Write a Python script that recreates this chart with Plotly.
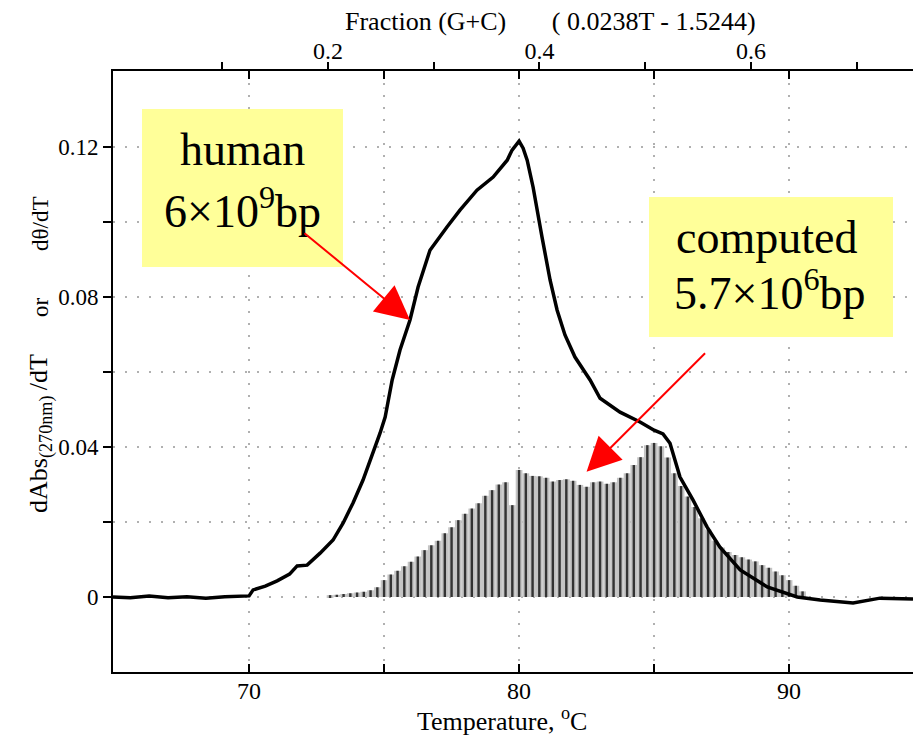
import plotly.graph_objects as go

# ---- measured melting curve of human DNA: temperature (°C) vs dAbs/dT ----
human_T = [64.96, 65.6, 66.3, 67.0, 67.7, 68.4, 69.1, 69.6, 70.0, 70.15, 70.6, 71.04,
           71.5, 71.78, 72.15, 72.63, 73.11, 73.48, 73.85, 74.22, 74.59, 74.85, 75.04,
           75.15, 75.3, 75.59, 75.96, 76.26, 76.7, 77.33, 77.81, 78.44, 79.04, 79.56,
           79.74, 80.0, 80.15, 80.3, 80.52, 80.85, 81.15, 81.41, 81.7, 82.07, 82.63,
           83.0, 83.74, 84.48, 85.0, 85.33, 85.59, 85.96, 86.44, 86.96, 87.44, 88.19,
           89.19, 90.3, 91.15, 92.37, 93.37, 94.59]
human_val = [0.0, -0.0002, 0.0003, -0.0002, 0.0001, -0.0003, 0.0001, 0.0002, 0.0003, 0.0019,
             0.0029, 0.0043, 0.0061, 0.0083, 0.0085, 0.0117, 0.0152, 0.0197, 0.0251, 0.0312,
             0.0384, 0.0437, 0.048, 0.0525, 0.0579, 0.0659, 0.0739, 0.0827, 0.0925, 0.0987,
             0.1032, 0.1085, 0.112, 0.1165, 0.1192, 0.1216, 0.1197, 0.1165, 0.1093, 0.096,
             0.0845, 0.0765, 0.0699, 0.064, 0.0579, 0.053, 0.0493, 0.0467, 0.0445, 0.0435,
             0.041, 0.032, 0.0259, 0.0187, 0.0133, 0.0072, 0.0027, 0.0, -0.0008, -0.0016,
             -0.0003, -0.0005]

# ---- computed dθ/dT histogram (bin centre °C, height) ----
comp_T = [73.0, 73.25, 73.5, 73.75, 74.0, 74.25, 74.5, 74.75, 75.0, 75.25, 75.5, 75.75,
          76.0, 76.25, 76.5, 76.75, 77.0, 77.25, 77.5, 77.75, 78.0, 78.25, 78.5, 78.75,
          79.0, 79.25, 79.5, 79.75, 80.0, 80.25, 80.5, 80.75, 81.0, 81.25, 81.5, 81.75,
          82.0, 82.25, 82.5, 82.75, 83.0, 83.25, 83.5, 83.75, 84.0, 84.25, 84.5, 84.75,
          85.0, 85.25, 85.5, 85.75, 86.0, 86.25, 86.5, 86.75, 87.0, 87.25, 87.5, 87.75,
          88.0, 88.25, 88.5, 88.75, 89.0, 89.25, 89.5, 89.75, 90.0, 90.25, 90.5]
comp_val = [0.0005, 0.0006, 0.0008, 0.0010, 0.0012, 0.0014, 0.0018, 0.0026, 0.0045, 0.0060,
            0.0070, 0.0082, 0.0094, 0.0108, 0.0125, 0.0138, 0.0150, 0.0170, 0.0186, 0.0205,
            0.0222, 0.0236, 0.0250, 0.0270, 0.0285, 0.0300, 0.0306, 0.0245, 0.0339, 0.0330,
            0.0323, 0.0322, 0.0318, 0.0308, 0.0312, 0.0314, 0.0310, 0.0299, 0.0294, 0.0306,
            0.0308, 0.0302, 0.0306, 0.0318, 0.0330, 0.0352, 0.0373, 0.0405, 0.0411, 0.0402,
            0.0372, 0.0330, 0.0296, 0.0268, 0.0240, 0.0210, 0.0180, 0.0150, 0.0132, 0.0120,
            0.0112, 0.0106, 0.0100, 0.0095, 0.0085, 0.0078, 0.0068, 0.0058, 0.0045, 0.0030,
            0.0015]

# ---- axis ticks ----
temp_ticks = [70, 75, 80, 85, 90]
temp_labels = ["70", "", "80", "", "90"]
gc_ticks = [0.1, 0.2, 0.3, 0.4, 0.5, 0.6, 0.7]
gc_labels = ["", "0.2", "", "0.4", "", "0.6", ""]
y_ticks = [0, 0.02, 0.04, 0.06, 0.08, 0.10, 0.12]
y_labels = ["0", "", "0.04", "", "0.08", "", "0.12"]

SERIF = "Liberation Serif, Times New Roman, serif"
W, H = 913, 743
ML, MR, MT, MB = 113, 0, 71, 71
PW, PH = W - ML - MR, H - MT - MB


def px(x):
    return (x - ML) / PW


def py(y):
    return (H - MB - y) / PH


fig = go.Figure()

# histogram: pale envelope plus dark stripes
fig.add_trace(go.Bar(x=comp_T, y=comp_val, width=0.25,
                     marker=dict(color="#c4c4c4", line=dict(width=0)),
                     hoverinfo="skip", showlegend=False))
fig.add_trace(go.Bar(x=comp_T, y=comp_val, width=0.09,
                     marker=dict(color="#333333", line=dict(width=0)),
                     hoverinfo="skip", showlegend=False))

# melting curve
fig.add_trace(go.Scatter(x=human_T, y=human_val, mode="lines",
                         line=dict(color="black", width=3.5),
                         hoverinfo="skip", showlegend=False))

# carrier for the G+C fraction axis
fig.add_trace(go.Scatter(x=[0.1, 0.7], y=[None, None], xaxis="x2", mode="lines",
                         hoverinfo="skip", showlegend=False))

grid = dict(showgrid=True, gridcolor="#b0b0b0", gridwidth=1.5, griddash="2px,10px")

fig.update_layout(
    width=W, height=H,
    margin=dict(l=ML, r=MR, t=MT, b=MB),
    paper_bgcolor="white", plot_bgcolor="white",
    barmode="overlay",
    showlegend=False,
    font=dict(family=SERIF, color="black"),
    xaxis=dict(range=[64.96, 94.59], tickvals=temp_ticks, ticktext=temp_labels,
               ticks="inside", ticklen=8, tickwidth=2, tickcolor="black",
               showline=True, linewidth=2, linecolor="black", mirror="ticks",
               zeroline=False, tickfont=dict(size=24, family=SERIF),
               ticklabelstandoff=-4, **grid),
    xaxis2=dict(overlaying="x", side="top", anchor="y",
                range=[-0.0033, 0.7532], tickvals=gc_ticks, ticktext=gc_labels,
                ticks="outside", ticklen=7, tickwidth=2, tickcolor="black",
                showline=True, linewidth=2, linecolor="black",
                showgrid=False, zeroline=False, ticklabelstandoff=-7,
                tickfont=dict(size=24, family=SERIF)),
    yaxis=dict(range=[-0.02, 0.1403], tickvals=y_ticks, ticktext=y_labels,
               ticks="outside", ticklen=8, tickwidth=2, tickcolor="black",
               showline=True, linewidth=2, linecolor="black",
               zeroline=False, tickfont=dict(size=23, family=SERIF), **grid),
)

annotations = [
    dict(text="Fraction (G+C)" + "\u00a0" * 7 + "( 0.0238T - 1.5244)",
         x=px(550), y=py(21), font=dict(size=26)),
    dict(text="Temperature, <sup>o</sup>C", x=px(502), y=py(719), font=dict(size=26)),
    dict(text="d\u03b8/dT", x=px(40), y=py(224), textangle=-90, font=dict(size=23)),
    dict(text="or", x=px(40), y=py(307), textangle=-90, font=dict(size=23)),
    dict(text="dAbs<sub>(270nm)</sub>\u2009/dT", x=px(40), y=py(434), textangle=-90,
         font=dict(size=26)),
    dict(text="human", x=px(242), y=py(149), font=dict(size=46)),
    dict(text="6\u00d710<sup>9</sup>bp", x=px(242), y=py(208), font=dict(size=46)),
    dict(text="computed", x=px(766), y=py(237), font=dict(size=46)),
    dict(text="5.7\u00d710<sup>6</sup>bp", x=px(770), y=py(290), font=dict(size=46)),
]
for a in annotations:
    a.update(xref="paper", yref="paper", showarrow=False,
             xanchor="center", yanchor="middle")
    a["font"].update(family=SERIF, color="black")

# red pointers: one to the measured curve, one to the histogram
i_h = human_T.index(75.96)
i_c = comp_T.index(82.5)
annotations += [
    dict(x=human_T[i_h], y=human_val[i_h], xref="x", yref="y", text="",
         showarrow=True, ax=-107, ay=-88, arrowcolor="#ff0000", arrowwidth=2,
         arrowhead=2, arrowsize=3.4, standoff=0),
    dict(x=comp_T[i_c], y=comp_val[i_c] + 0.004, xref="x", yref="y", text="",
         showarrow=True, ax=120, ay=-120, arrowcolor="#ff0000", arrowwidth=2,
         arrowhead=2, arrowsize=3.4, standoff=0),
]
fig.update_layout(annotations=annotations)

# yellow label boxes
for x0, y0, x1, y1 in [(142, 109, 343, 267), (649, 197, 893, 337)]:
    fig.add_shape(type="rect", xref="paper", yref="paper",
                  x0=px(x0), x1=px(x1), y0=py(y1), y1=py(y0),
                  fillcolor="#ffff99", line=dict(width=0), layer="above")

fig.write_html("out.html")
